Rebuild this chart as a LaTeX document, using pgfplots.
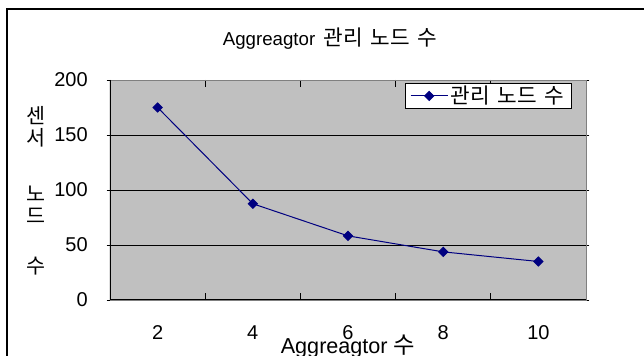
\documentclass[border=0pt]{standalone}
\usepackage{fontspec}
\setmainfont{Liberation Sans}
\newfontfamily\kr[WordSpace=1.6]{Noto Sans CJK KR}
\usepackage{pgfplots}
\pgfplotsset{compat=1.18}
\definecolor{plotgray}{RGB}{192,192,192}
\definecolor{navyline}{RGB}{0,0,128}
\definecolor{edgegray}{RGB}{128,128,128}
\begin{document}
\begin{tikzpicture}[font=\fontsize{15}{18}\selectfont]
\useasboundingbox (0,0) rectangle (483pt,267pt);
\draw[line width=1.5pt] (4.9pt,-5pt) -- (4.9pt,260.25pt) -- (490pt,260.25pt);
\begin{axis}[
  at={(82.5pt,42pt)}, anchor=south west,
  width=357pt, height=165pt, scale only axis,
  xmin=-0.5, xmax=4.5, ymin=0, ymax=200,
  xtick={0,1,2,3,4}, xticklabels={2,4,6,8,10},
  minor xtick={0.5,1.5,2.5,3.5},
  ytick={0,50,100,150,200},
  ymajorgrids, grid style={black, line width=0.6pt},
  axis background/.style={fill=plotgray},
  axis line style={draw=edgegray, line width=0.6pt},
  major x tick style={draw=none},
  minor x tick style={black, line width=0.6pt},
  minor tick length=5pt,
  y tick style={black, line width=0.6pt},
  major tick length=2.5pt,
  ytick align=outside,
  /pgf/number format/assume math mode=true,
  tick label style={font=\fontsize{15}{18}\selectfont},
  xticklabel style={anchor=center, yshift=-24.75pt},
  yticklabel style={anchor=east, inner sep=0pt, xshift=-14pt},
  legend style={at={(0.9706,0.986)}, anchor=north east, draw=black, fill=white,
    font=\kr\fontsize{16}{18}\selectfont, inner xsep=3.5pt, inner ysep=0pt, line width=0.6pt},
  legend cell align=left,
  legend image code/.code={\draw[mark repeat=2, mark phase=2, #1] plot coordinates {(0pt,0pt) (13.9pt,0pt) (27.75pt,0pt)};},
]
\addplot[navyline, line width=0.75pt, mark=square*, mark size=2.4pt, mark options={rotate=45, fill=navyline, draw=navyline}]
  coordinates {(0,175) (1,87.5) (2,58.3) (3,43.75) (4,35)};
\addlegendentry{관리 노드 수}
\draw[black, line width=0.8pt] (rel axis cs:0,1) -- (rel axis cs:0,0) -- (rel axis cs:1,0);
\end{axis}
\node[anchor=base, font=\fontsize{14}{17}\selectfont] at (247.5pt,232.5pt) {Aggreagtor\hspace{0.45em}{\kr\fontsize{16}{18}\selectfont 관리 노드 수}};
\node[anchor=base, font=\fontsize{16.2}{19}\selectfont] at (261pt,1.5pt) {Aggreagtor {\kr\fontsize{17.5}{20}\selectfont 수}};
\node[font=\kr\fontsize{15.5}{18}\selectfont] at (27pt,180.5pt) {센};
\node[font=\kr\fontsize{15.5}{18}\selectfont] at (27pt,163.5pt) {서};
\node[font=\kr\fontsize{15.5}{18}\selectfont] at (27pt,122pt) {노};
\node[font=\kr\fontsize{15.5}{18}\selectfont] at (27pt,105.5pt) {드};
\node[font=\kr\fontsize{15.5}{18}\selectfont] at (27pt,67.5pt) {수};
\end{tikzpicture}
\end{document}
